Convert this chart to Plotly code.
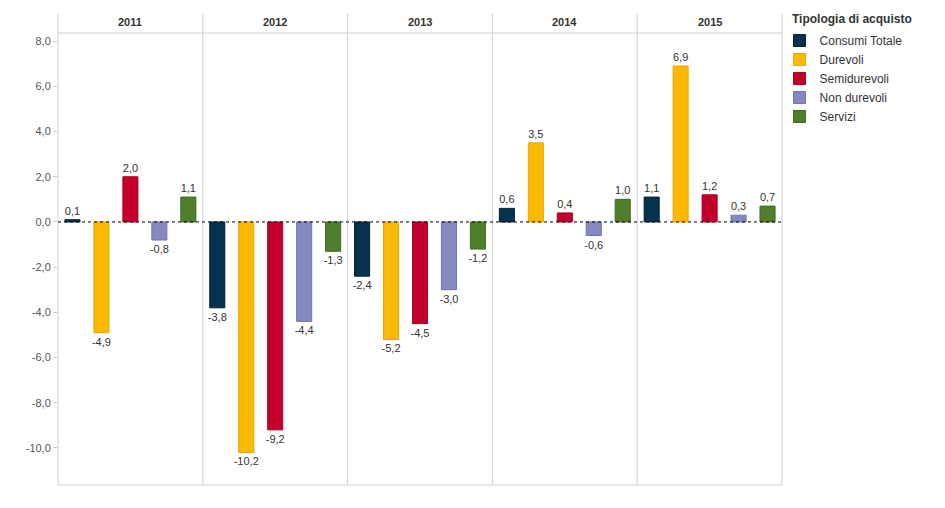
import plotly.graph_objects as go
from plotly.subplots import make_subplots

years = ["2011", "2012", "2013", "2014", "2015"]
series = ["Consumi Totale", "Durevoli", "Semidurevoli", "Non durevoli", "Servizi"]
consumi_totale = [0.1, -3.8, -2.4, 0.6, 1.1]
durevoli = [-4.9, -10.2, -5.2, 3.5, 6.9]
semidurevoli = [2.0, -9.2, -4.5, 0.4, 1.2]
non_durevoli = [-0.8, -4.4, -3.0, -0.6, 0.3]
servizi = [1.1, -1.3, -1.2, 1.0, 0.7]
values = [consumi_totale, durevoli, semidurevoli, non_durevoli, servizi]

colors = ["#06324e", "#fcb900", "#c3002d", "#8589c1", "#4f7f2b"]
edges = ["#02223a", "#e5a800", "#a80024", "#7175ad", "#3f6a20"]

tick_vals = [-10, -8, -6, -4, -2, 0, 2, 4, 6, 8]
tick_text = ["-10,0", "-8,0", "-6,0", "-4,0", "-2,0", "0,0", "2,0", "4,0", "6,0", "8,0"]

fig = make_subplots(rows=1, cols=5, shared_yaxes=True, horizontal_spacing=0)

for i, yr in enumerate(years):
    for j, s in enumerate(series):
        v = values[j][i]
        fig.add_trace(go.Bar(
            x=[s], y=[v], name=s, legendgroup=s, showlegend=(i == 0),
            marker=dict(color=colors[j], line=dict(color=edges[j], width=1)),
            width=0.52,
            text=[f"{v:.1f}".replace(".", ",")], textposition="outside",
            constraintext="none",
            textfont=dict(size=11, color="#333333"), cliponaxis=False,
        ), row=1, col=i + 1)

ymin, ymax = -11.64, 8.36
for i in range(5):
    fig.update_xaxes(showticklabels=False, showgrid=False, zeroline=False,
                     showline=False, categoryorder="array", categoryarray=series,
                     range=[-0.5, 4.5], row=1, col=i + 1)
    fig.update_yaxes(range=[ymin, ymax], showgrid=False, zeroline=False,
                     showline=False, row=1, col=i + 1)

fig.update_yaxes(tickvals=tick_vals, ticktext=tick_text, ticks="outside",
                 ticklen=4, tickcolor="#cccccc",
                 tickfont=dict(size=11, color="#555555"), row=1, col=1)

line_c = "#d0d0d0"
top_y = 1.044
shapes = []
for k in range(6):
    shapes.append(dict(type="line", xref="paper", yref="paper", x0=k / 5, x1=k / 5,
                       y0=0, y1=top_y, line=dict(color=line_c, width=1)))
shapes.append(dict(type="line", xref="paper", yref="paper", x0=0, x1=1, y0=1, y1=1,
                   line=dict(color=line_c, width=1)))
shapes.append(dict(type="line", xref="paper", yref="paper", x0=0, x1=1, y0=0, y1=0,
                   line=dict(color=line_c, width=1)))
shapes.append(dict(type="line", xref="paper", yref="y", x0=0, x1=1, y0=0, y1=0,
                   line=dict(color="#000000", width=1, dash="dot"), layer="above"))

annotations = []
for i, yr in enumerate(years):
    annotations.append(dict(text=f"<b>{yr}</b>", xref="paper", yref="paper",
                            x=(i + 0.5) / 5, y=1.024, showarrow=False,
                            font=dict(size=11, color="#333333"),
                            xanchor="center", yanchor="middle"))
annotations.append(dict(text="<b>Tipologia di acquisto</b>", xref="paper", yref="paper",
                        x=1.011, y=1.031, showarrow=False,
                        font=dict(size=12, color="#333333"),
                        xanchor="left", yanchor="middle"))

fig.update_layout(
    width=945, height=508,
    margin=dict(l=50, r=171, t=25, b=31, autoexpand=False),
    plot_bgcolor="white", paper_bgcolor="white",
    font=dict(family="Liberation Sans, Arial, sans-serif", color="#333333"),
    separators=",.",
    barmode="overlay",
    shapes=shapes, annotations=annotations,
    legend=dict(x=0.9966, y=1.0155, xanchor="left", yanchor="top",
                tracegroupgap=0, bgcolor="rgba(0,0,0,0)",
                font=dict(size=12, color="#333333"), itemclick=False),
)

fig.write_html("out.html")
